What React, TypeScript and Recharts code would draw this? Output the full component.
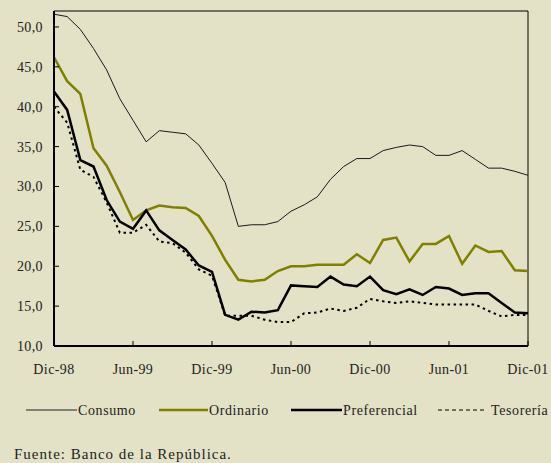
import React from 'react';
import { LineChart, Line, XAxis, YAxis, ReferenceLine, Legend } from 'recharts';

const months = [
  'Dic-98', 'Ene-99', 'Feb-99', 'Mar-99', 'Abr-99', 'May-99', 'Jun-99', 'Jul-99', 'Ago-99', 'Sep-99', 'Oct-99', 'Nov-99',
  'Dic-99', 'Ene-00', 'Feb-00', 'Mar-00', 'Abr-00', 'May-00', 'Jun-00', 'Jul-00', 'Ago-00', 'Sep-00', 'Oct-00', 'Nov-00',
  'Dic-00', 'Ene-01', 'Feb-01', 'Mar-01', 'Abr-01', 'May-01', 'Jun-01', 'Jul-01', 'Ago-01', 'Sep-01', 'Oct-01', 'Nov-01',
  'Dic-01',
];
const tickLabels = ['Dic-98', 'Jun-99', 'Dic-99', 'Jun-00', 'Dic-00', 'Jun-01', 'Dic-01'];
const yTicks = [10, 15, 20, 25, 30, 35, 40, 45, 50];

const consumo = [51.6, 51.3, 49.7, 47.3, 44.6, 41.0, 38.3, 35.6, 37.0, 36.8, 36.6, 35.2, 32.9, 30.5, 25.0, 25.2, 25.2, 25.6, 26.9, 27.7, 28.7, 30.9, 32.5, 33.5, 33.5, 34.5, 34.9, 35.2, 35.0, 33.9, 33.9, 34.5, 33.4, 32.3, 32.3, 31.9, 31.4];
const ordinario = [46.2, 43.2, 41.6, 34.8, 32.6, 29.3, 25.8, 27.0, 27.6, 27.4, 27.3, 26.3, 23.8, 20.8, 18.3, 18.1, 18.3, 19.4, 20.0, 20.0, 20.2, 20.2, 20.2, 21.5, 20.4, 23.3, 23.6, 20.6, 22.8, 22.8, 23.8, 20.3, 22.6, 21.8, 21.9, 19.5, 19.4];
const preferencial = [41.9, 39.6, 33.3, 32.5, 28.3, 25.6, 24.7, 27.0, 24.5, 23.3, 22.1, 20.1, 19.3, 13.9, 13.3, 14.3, 14.2, 14.5, 17.6, 17.5, 17.4, 18.7, 17.7, 17.5, 18.7, 17.0, 16.5, 17.1, 16.4, 17.4, 17.2, 16.4, 16.6, 16.6, 15.4, 14.2, 14.1];
const tesoreria = [40.0, 38.0, 32.1, 31.2, 28.0, 24.2, 24.2, 25.2, 23.1, 22.9, 21.7, 19.6, 18.8, 13.8, 13.8, 13.8, 13.3, 13.0, 13.0, 14.1, 14.2, 14.7, 14.4, 14.8, 15.9, 15.6, 15.4, 15.6, 15.4, 15.2, 15.2, 15.2, 15.2, 14.4, 13.7, 13.9, 13.9];

const seriesNames = ['Consumo', 'Ordinario', 'Preferencial', 'Tesorería'];
const sourceText = 'Fuente: Banco de la República.';

const data = months.map((m, i) => ({
  month: m,
  consumo: consumo[i],
  ordinario: ordinario[i],
  preferencial: preferencial[i],
  tesoreria: tesoreria[i],
}));

const FONT = '"Liberation Serif", "Times New Roman", serif';
const BG = '#E3E1C6';
const OLIVE = '#808000';

const YTick = (props: any) => {
  const { x, y, payload } = props;
  return (
    <g>
      <line x1={x} x2={x + 5} y1={y} y2={y} stroke="#000" strokeWidth={1} />
      <text x={x - 11} y={y + 5} textAnchor="end" fontFamily={FONT} fontSize={14} fill="#222" letterSpacing={0.4}>
        {Number(payload.value).toFixed(1).replace('.', ',')}
      </text>
    </g>
  );
};

const XTick = (props: any) => {
  const { x, y, payload } = props;
  return (
    <g>
      <line x1={x} x2={x} y1={y} y2={y - 5} stroke="#000" strokeWidth={1} />
      <text x={x} y={y + 28} textAnchor="middle" fontFamily={FONT} fontSize={14} fill="#222" letterSpacing={0.4}>
        {payload.value}
      </text>
    </g>
  );
};

const legendLayout = [
  { x1: 26, x2: 77, tx: 78, stroke: '#222', w: 1, dash: undefined },
  { x1: 159, x2: 208, tx: 209, stroke: OLIVE, w: 2.5, dash: undefined },
  { x1: 291, x2: 342, tx: 343, stroke: '#000', w: 2.5, dash: undefined },
  { x1: 438, x2: 486, tx: 491, stroke: '#000', w: 1.2, dash: '4 3' },
];

const LegendContent = () => (
  <svg width={551} height={63} style={{ display: 'block' }}>
    {seriesNames.map((name, i) => {
      const l = legendLayout[i];
      return (
        <g key={name}>
          <line x1={l.x1} x2={l.x2} y1={10} y2={10} stroke={l.stroke} strokeWidth={l.w} strokeDasharray={l.dash} />
          <text x={l.tx} y={15} fontFamily={FONT} fontSize={14} fill="#222" letterSpacing={0.6}>
            {name}
          </text>
        </g>
      );
    })}
    <text x={14} y={59} fontFamily={FONT} fontSize={15} fill="#222" letterSpacing={1}>
      {sourceText}
    </text>
  </svg>
);

export default function App() {
  return (
    <div style={{ position: 'absolute', left: 0, top: 0, width: 551, height: 463, background: BG }}>
      <LineChart width={551} height={463} data={data} margin={{ top: 11, right: 23, bottom: 0, left: 0 }}>
        <XAxis
          dataKey="month"
          height={117}
          interval={0}
          ticks={tickLabels}
          tick={<XTick />}
          tickSize={0}
          tickMargin={0}
          tickLine={false}
          axisLine={{ stroke: '#000', strokeWidth: 2 }}
        />
        <YAxis
          width={54}
          domain={[10, 52]}
          ticks={yTicks}
          tick={<YTick />}
          tickSize={0}
          tickMargin={0}
          tickLine={false}
          axisLine={{ stroke: '#000', strokeWidth: 2 }}
          allowDataOverflow
        />
        <ReferenceLine y={52} stroke="#000" strokeWidth={1} />
        <ReferenceLine x="Dic-01" stroke="#000" strokeWidth={1} />
        <Line dataKey="consumo" stroke="#1a1a1a" strokeWidth={1} dot={false} isAnimationActive={false} />
        <Line dataKey="ordinario" stroke={OLIVE} strokeWidth={2.5} dot={false} isAnimationActive={false} />
        <Line dataKey="tesoreria" stroke="#000" strokeWidth={2} strokeDasharray="2.5 3.5" dot={false} isAnimationActive={false} />
        <Line dataKey="preferencial" stroke="#000" strokeWidth={2.5} dot={false} isAnimationActive={false} />
        <Legend
          verticalAlign="middle"
          align="center"
          layout="horizontal"
          content={<LegendContent />}
          wrapperStyle={{ top: 400, left: 0, width: 551, height: 63 }}
        />
      </LineChart>
    </div>
  );
}
